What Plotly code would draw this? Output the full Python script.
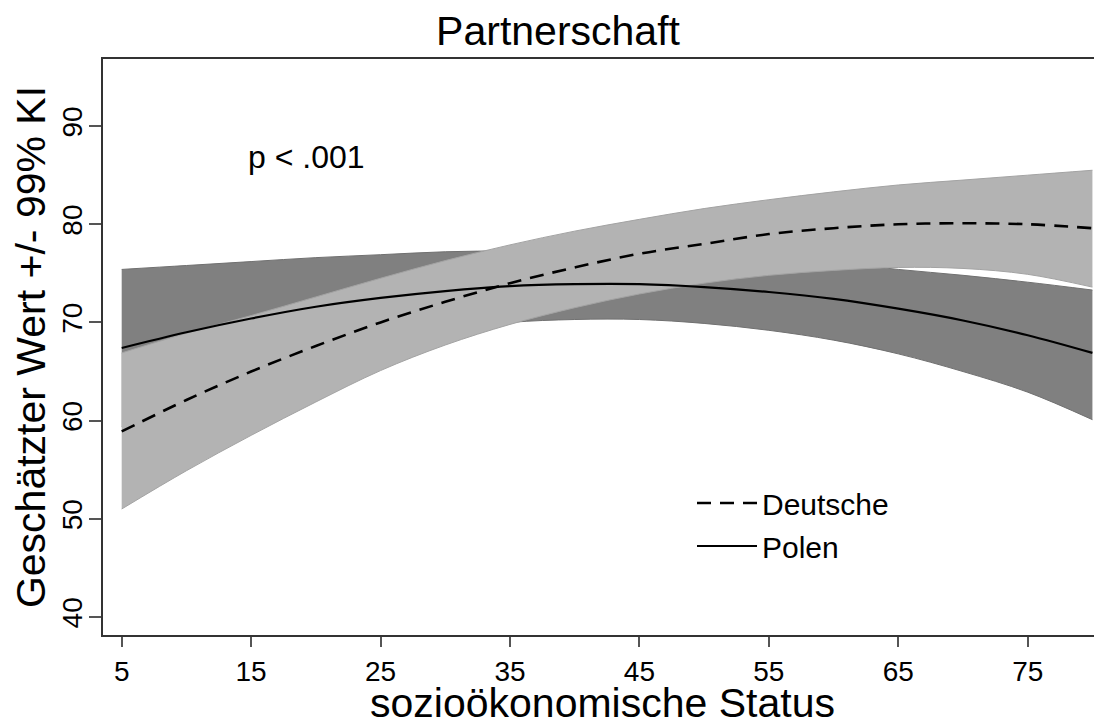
import plotly.graph_objects as go

# socio-economic status (x)
ses = [5, 10, 15, 20, 25, 30, 35, 40, 45, 50, 55, 60, 65, 70, 75, 80]

# Deutsche: estimate and 99% CI
de_est = [58.9, 62.1, 65.0, 67.6, 70.0, 72.1, 74.0, 75.6, 77.0, 78.0, 79.0, 79.6, 80.0, 80.1, 80.0, 79.6]
de_hi = [66.9, 68.9, 70.7, 72.6, 74.5, 76.3, 77.9, 79.3, 80.5, 81.6, 82.5, 83.3, 84.0, 84.5, 85.0, 85.5]
de_lo = [51.0, 54.9, 58.5, 61.9, 65.1, 67.7, 69.8, 71.5, 72.9, 74.0, 74.8, 75.3, 75.6, 75.5, 74.9, 73.6]

# Polen: estimate and 99% CI
pl_est = [67.4, 69.0, 70.4, 71.6, 72.5, 73.2, 73.7, 73.9, 73.9, 73.6, 73.1, 72.4, 71.4, 70.2, 68.7, 66.9]
pl_hi = [75.4, 75.8, 76.2, 76.6, 76.9, 77.2, 77.3, 77.4, 77.3, 77.0, 76.6, 76.1, 75.4, 74.8, 74.1, 73.3]
pl_lo = [59.4, 62.2, 64.6, 66.6, 68.1, 69.2, 70.0, 70.3, 70.3, 69.9, 69.2, 68.2, 66.8, 65.0, 62.9, 60.1]

x_ticks = [5, 15, 25, 35, 45, 55, 65, 75]
y_ticks = [40, 50, 60, 70, 80, 90]

FONT = "Liberation Sans, Arial, sans-serif"
DARK = "#808080"
LIGHT = "#b3b3b3"

# the page body adds an 8px offset; the figure is sized to fill the rest of the window
W, H = 1094, 718
PL, PT, PB = 95, 51, 91

fig = go.Figure()

# Polen CI band (dark)
fig.add_trace(go.Scatter(x=ses, y=pl_lo, mode="lines", line=dict(color="#707070", width=1, shape="spline"),
                         showlegend=False, hoverinfo="skip"))
fig.add_trace(go.Scatter(x=ses, y=pl_hi, mode="lines", line=dict(color="#707070", width=1, shape="spline"),
                         fill="tonexty", fillcolor=DARK, showlegend=False, hoverinfo="skip"))
# Deutsche CI band (light)
fig.add_trace(go.Scatter(x=ses, y=de_lo, mode="lines", line=dict(color="#a3a3a3", width=1, shape="spline"),
                         showlegend=False, hoverinfo="skip"))
fig.add_trace(go.Scatter(x=ses, y=de_hi, mode="lines", line=dict(color="#a3a3a3", width=1, shape="spline"),
                         fill="tonexty", fillcolor=LIGHT, showlegend=False, hoverinfo="skip"))

# Estimates
fig.add_trace(go.Scatter(x=ses, y=de_est, mode="lines", name="Deutsche", legendgroup="d",
                         line=dict(color="black", width=2.6, dash="14px,9px", shape="spline")))
fig.add_trace(go.Scatter(x=ses, y=pl_est, mode="lines", name="Polen", legendgroup="p",
                         line=dict(color="black", width=2.2, shape="spline")))

fig.add_annotation(text="p < .001", x=19.24, y=86.84, xref="x", yref="y", showarrow=False,
                   font=dict(family=FONT, size=32, color="black"))

fig.update_layout(
    width=W, height=H,
    margin=dict(l=PL, r=0, t=PT, b=PB),
    paper_bgcolor="white", plot_bgcolor="white",
    font=dict(family=FONT, color="black"),
    title=dict(text="Partnerschaft", x=550 / W, xanchor="center", xref="container",
               y=1 - 23 / H, yanchor="middle", yref="container",
               font=dict(family=FONT, size=41, color="black"), automargin=False),
    showlegend=True,
    legend=dict(x=(684 - PL) / 999, y=1 - (469 - PT) / 576, xanchor="left", yanchor="top",
                bgcolor="rgba(0,0,0,0)", borderwidth=0, itemwidth=60, tracegroupgap=1,
                font=dict(family=FONT, size=30, color="black")),
    xaxis=dict(range=[3.556, 80.74], tickvals=x_ticks, ticks="outside", ticklen=10, tickwidth=2,
               tickcolor="#555555", showline=True, linecolor="#333333", linewidth=2, mirror=True,
               showgrid=False, zeroline=False, tickfont=dict(family=FONT, size=28, color="black"),
               ticklabelstandoff=0, automargin=False,
               title=dict(text="sozioökonomische Status", font=dict(family=FONT, size=41, color="black"),
                          standoff=7)),
    yaxis=dict(range=[38.17, 96.83], tickvals=y_ticks, ticks="outside", ticklen=12, tickwidth=2,
               tickcolor="#555555", showline=True, linecolor="#333333", linewidth=2, mirror=False,
               showgrid=False, zeroline=False, tickangle=-90, automargin=False,
               tickfont=dict(family=FONT, size=28, color="black"), ticklabelstandoff=-4,
               title=dict(text="Geschätzter Wert +/- 99% KI", font=dict(family=FONT, size=41, color="black"),
                          standoff=2)),
)

fig.write_html("out.html")
